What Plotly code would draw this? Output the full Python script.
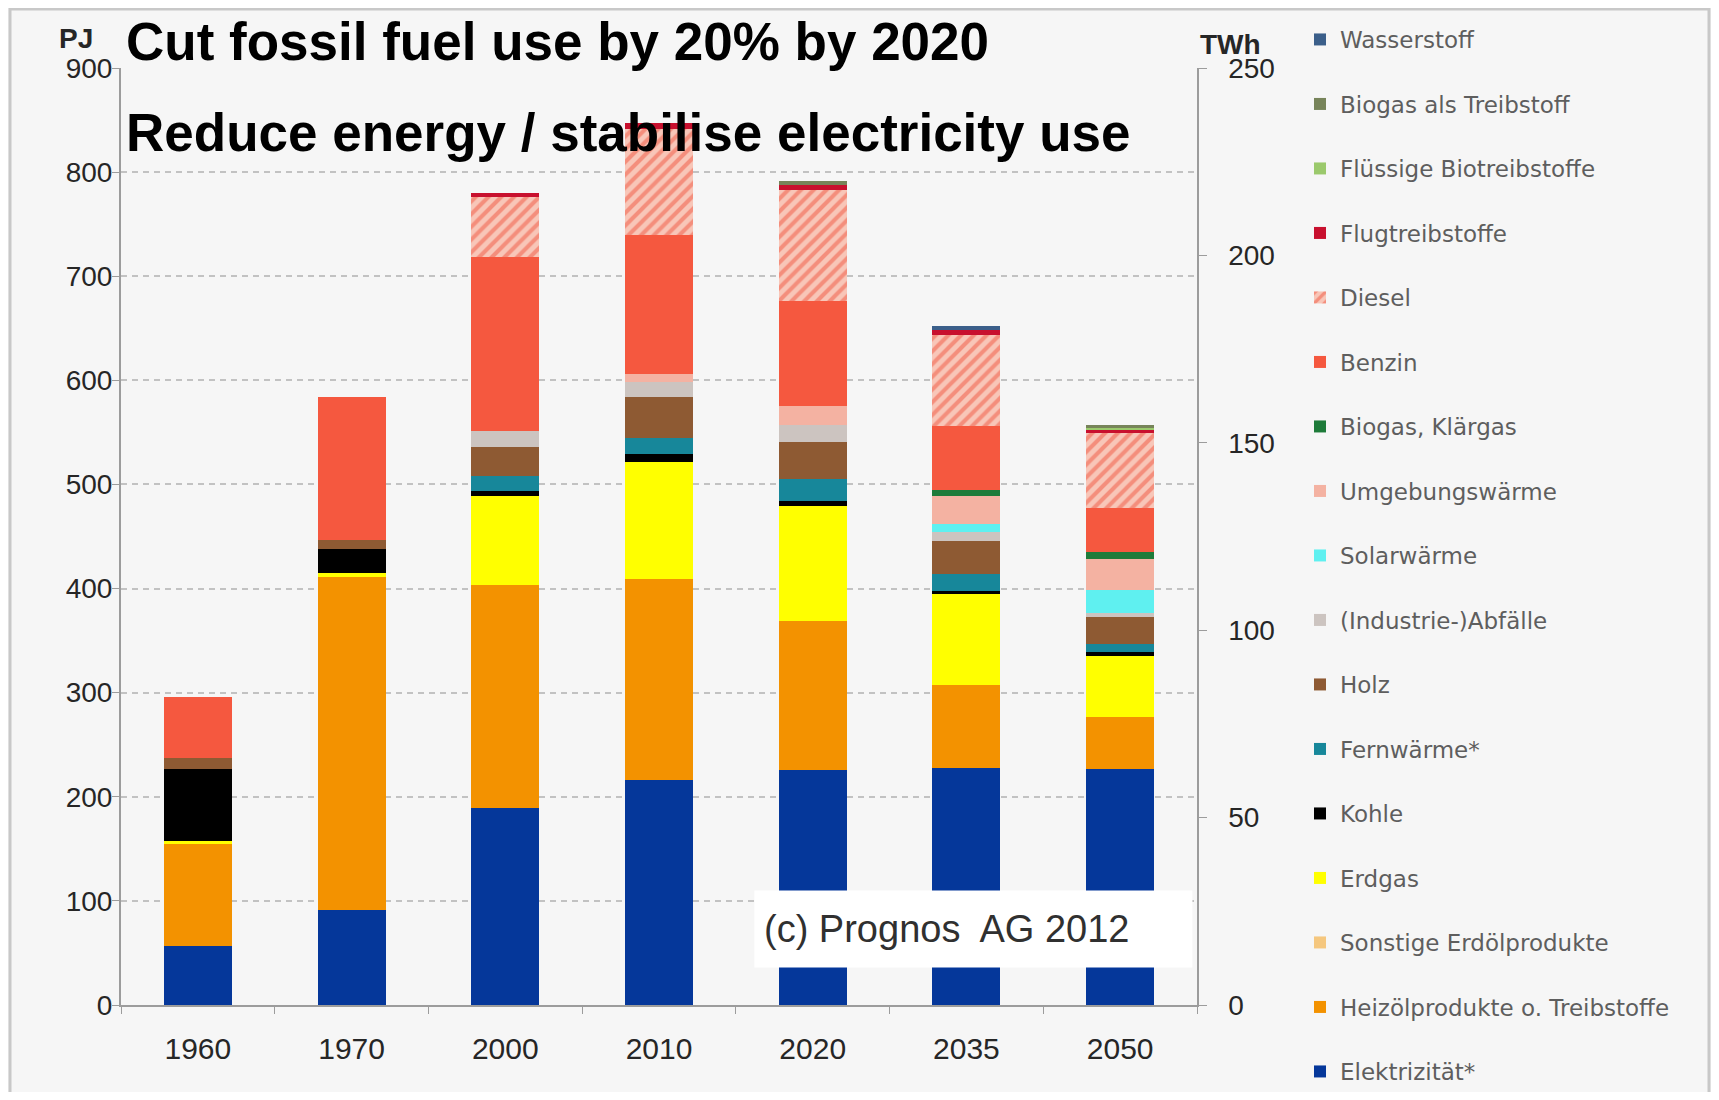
import plotly.graph_objects as go

years = ["1960", "1970", "2000", "2010", "2020", "2035", "2050"]

# Values in PJ (stack order bottom -> top)
elektrizitaet = [57, 91, 189, 216, 226, 228, 227]
heizoel = [98, 320, 214, 193, 143, 79, 50]
sonstige_erdoel = [0, 0, 0, 0, 0, 0, 0]
erdgas = [3, 4, 86, 113, 110, 88, 58]
kohle = [69, 23, 5, 7, 5, 3, 4]
fernwaerme = [0, 0, 14, 16, 21, 16, 8]
holz = [10, 9, 28, 39, 36, 32, 26]
abfaelle = [0, 0, 15, 14, 16, 8, 4]
solarwaerme = [0, 0, 0, 0, 0, 8, 22]
umgebungswaerme = [0, 0, 0, 8, 18, 27, 29]
biogas_klaergas = [0, 0, 0, 0, 0, 6, 7]
benzin = [59, 137, 167, 134, 101, 61, 42]
diesel = [0, 0, 58, 101, 107, 88, 72]
flugtreibstoffe = [0, 0, 4, 6, 5, 4, 4]
fluessige_bio = [0, 0, 0, 0, 0, 0, 1]
biogas_treibstoff = [0, 0, 0, 0, 3, 0, 3]
wasserstoff = [0, 0, 0, 0, 0, 4, 0]

names = ["Elektrizität*", "Heizölprodukte o. Treibstoffe", "Sonstige Erdölprodukte", "Erdgas",
         "Kohle", "Fernwärme*", "Holz", "(Industrie-)Abfälle", "Solarwärme", "Umgebungswärme",
         "Biogas, Klärgas", "Benzin", "Diesel", "Flugtreibstoffe", "Flüssige Biotreibstoffe",
         "Biogas als Treibstoff", "Wasserstoff"]
values = [elektrizitaet, heizoel, sonstige_erdoel, erdgas, kohle, fernwaerme, holz, abfaelle,
          solarwaerme, umgebungswaerme, biogas_klaergas, benzin, diesel, flugtreibstoffe,
          fluessige_bio, biogas_treibstoff, wasserstoff]
colors = ["#05379A", "#F39200", "#F5C77E", "#FFFF00", "#000000", "#17879A", "#8E5A33", "#CCC4C0",
          "#5FF0F0", "#F4B2A2", "#1E7B3A", "#F5583F", "#F7C3B5", "#C8102E", "#9BC96C", "#77845A",
          "#3B5F8A"]

fig = go.Figure()
n = len(names)
for i, (name, vals, col) in enumerate(zip(names, values, colors)):
    marker = dict(color=col, line=dict(width=0))
    if name == "Diesel":
        marker["pattern"] = dict(shape="/", fgcolor="#F0553F", bgcolor="#F8C6B8", size=9, solidity=0.45)
    fig.add_trace(go.Bar(x=years, y=vals, name=name, marker=marker, legendgroup=name,
                         legendrank=100 + n - i))

# electricity in TWh on the secondary axis (invisible, only to show the TWh scale)
fig.add_trace(go.Scatter(x=years, y=[e / 3.6 for e in elektrizitaet], yaxis="y2", mode="markers",
                         marker=dict(opacity=0), showlegend=False, hoverinfo="skip"))

# page body has an 8px margin -> figure sits at (8, 8) in the screenshot
OFF = 8
W, H = 1719 - 2 * OFF, 1100 - 2 * OFF
L, R, T, B = 121, 1197, 68, 1005  # plot area in screenshot pixels
pw, ph = R - L, B - T


def px(x):
    return (x - L) / pw


def py(y):
    return (B - y) / ph


axis_col = "#9C9C9C"
tick_font = dict(family="Liberation Sans", size=28, color="#262626")

fig.update_layout(
    width=W, height=H,
    margin=dict(l=L - OFF, r=W - (R - OFF), t=T - OFF, b=H - (B - OFF), autoexpand=False),
    barmode="stack", bargap=0.558,
    paper_bgcolor="#F6F6F6", plot_bgcolor="#F6F6F6",
    showlegend=True,
    xaxis=dict(type="category", showline=True, linecolor=axis_col, linewidth=2,
               ticks="outside", tickson="boundaries", ticklen=7, tickcolor=axis_col,
               tickfont=dict(family="Liberation Sans", size=30, color="#262626"),
               ticklabelstandoff=16, showgrid=False),
    yaxis=dict(range=[0, 900], tick0=0, dtick=100, showline=True, linecolor=axis_col,
               linewidth=2, ticks="outside", ticklen=7, tickcolor=axis_col,
               showgrid=True, gridcolor="#C2C2C2", gridwidth=2, griddash="6px,5px",
               zeroline=False, tickfont=tick_font, ticklabelstandoff=-6),
    yaxis2=dict(overlaying="y", side="right", range=[0, 250], tick0=0, dtick=50,
                showline=True, linecolor=axis_col, linewidth=2, ticks="outside", ticklen=8,
                tickcolor=axis_col, showgrid=False, zeroline=False, tickfont=tick_font,
                tickprefix="\u00a0\u00a0"),
    legend=dict(x=px(1300), y=py(18), xanchor="left", yanchor="top",
                traceorder="grouped", tracegroupgap=31.6, maxheight=3000,
                font=dict(family="DejaVu Sans", size=23, color="#5E5E5E"),
                bgcolor="rgba(0,0,0,0)"),
    shapes=[
        dict(type="rect", xref="x", yref="y", x0=3.62, x1=6.47, y0=36, y1=110,
             fillcolor="#FFFFFF", line=dict(width=0), layer="above"),
        dict(type="rect", xref="paper", yref="paper", x0=px(10), x1=px(1709), y0=py(1120),
             y1=py(9), line=dict(color="#C8C8C8", width=3), fillcolor="rgba(0,0,0,0)",
             layer="below"),
    ],
    annotations=[
        dict(text="<b>Cut fossil fuel use by 20% by 2020</b>", xref="paper", yref="paper",
             x=px(124), y=py(42), xanchor="left", yanchor="middle", showarrow=False,
             font=dict(family="Liberation Sans", size=53, color="#000000")),
        dict(text="<b>Reduce energy / stabilise electricity use</b>", xref="paper", yref="paper",
             x=px(124), y=py(132), xanchor="left", yanchor="middle", showarrow=False,
             font=dict(family="Liberation Sans", size=53, color="#000000")),
        dict(text="<b>PJ</b>", xref="paper", yref="paper", x=px(76), y=py(38),
             xanchor="center", yanchor="middle", showarrow=False,
             font=dict(family="Liberation Sans", size=28, color="#262626")),
        dict(text="<b>TWh</b>", xref="paper", yref="paper", x=px(1230), y=py(44),
             xanchor="center", yanchor="middle", showarrow=False,
             font=dict(family="Liberation Sans", size=28, color="#262626")),
        dict(text="(c) Prognos\u00a0 AG 2012", xref="x", yref="y", x=4.87, y=73,
             xanchor="center", yanchor="middle", showarrow=False,
             font=dict(family="Liberation Sans", size=38, color="#303030")),
    ],
)

fig.write_html("out.html")
